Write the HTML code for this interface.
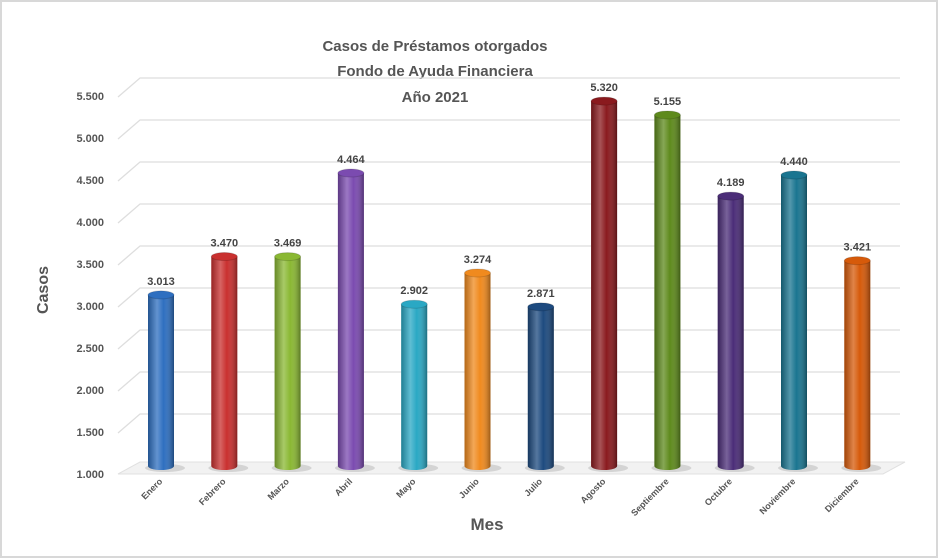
<!DOCTYPE html>
<html><head><meta charset="utf-8"><style>
body{margin:0;background:#fff;}
svg{display:block;font-family:"Liberation Sans",Arial,sans-serif;}
</style></head><body>
<svg width="940" height="560" viewBox="0 0 940 560">
<defs>
<linearGradient id="shade" x1="0" x2="1" y1="0" y2="0">
<stop offset="0" stop-color="#000" stop-opacity="0.25"/>
<stop offset="0.35" stop-color="#fff" stop-opacity="0.25"/>
<stop offset="0.6" stop-color="#fff" stop-opacity="0"/>
<stop offset="1" stop-color="#000" stop-opacity="0.35"/>
</linearGradient>
</defs>
<rect x="1" y="1" width="936" height="556" fill="#fff" stroke="#d8d8d8" stroke-width="2"/>
<g id="title" font-weight="bold" font-size="15" fill="#555" text-anchor="middle">
<text x="435" y="51">Casos de Préstamos otorgados</text>
<text x="435" y="76">Fondo de Ayuda Financiera</text>
<text x="435" y="102">Año 2021</text>
</g>
<text x="48" y="290" transform="rotate(-90 48 290)" font-size="16" font-weight="bold" fill="#555" text-anchor="middle">Casos</text>
<text x="487" y="530" font-size="17" font-weight="bold" fill="#555" text-anchor="middle">Mes</text>
<polygon points="118,474 140,462 905,462 883,474" fill="#f2f2f2" stroke="#e0e0e0"/>
<g id="grid"></g><g id="yt"></g><g id="bars"></g><g id="xt"></g>
</svg>
<script>
const months=["Enero","Febrero","Marzo","Abril","Mayo","Junio","Julio","Agosto","Septiembre","Octubre","Noviembre","Diciembre"];
const values=[3013,3470,3469,4464,2902,3274,2871,5320,5155,4189,4440,3421];
const valueLabels=["3.013","3.470","3.469","4.464","2.902","3.274","2.871","5.320","5.155","4.189","4.440","3.421"];
const ticks=[1000,1500,2000,2500,3000,3500,4000,4500,5000,5500];
const tickLabels=["1.000","1.500","2.000","2.500","3.000","3.500","4.000","4.500","5.000","5.500"];
const colors=["#2e6fc0","#c9302f","#8ab833","#7b4bb0","#2aa8c4","#f08a1e","#1d4a7f","#8a1a1e","#5e8a1c","#4b2d78","#1a7590","#d65a0a"];
const NS="http://www.w3.org/2000/svg";
function y(v){return 474-(v-1000)*0.084;}
function x(i){return 161+i*63.3;}
function mk(t,a,p){const e=document.createElementNS(NS,t);for(const k in a)e.setAttribute(k,a[k]);p.appendChild(e);return e;}
const g=document.getElementById('grid'),yt=document.getElementById('yt'),bars=document.getElementById('bars'),xt=document.getElementById('xt');
ticks.forEach((v,i)=>{
 const yy=y(v);
 if(i>0){const l=mk('polyline',{points:`118,${yy+1} 140,${yy-18} 900,${yy-18}`,fill:'none',stroke:'#dedede','stroke-width':1.3},g);
 }
 const t=mk('text',{x:104,y:yy+4,'font-size':11,'font-weight':'bold',fill:'#555','text-anchor':'end'},yt);
 t.textContent=tickLabels[i];
 
});
values.forEach((v,i)=>{
 const cx=x(i),top=y(v)-10,bot=466,w=13;
 const grp=mk('g',{},bars);
 
 
 mk('ellipse',{cx:cx+4,cy:bot+2,rx:20,ry:4,fill:'#000',opacity:0.12},grp);
 mk('path',{d:`M${cx-w},${top} L${cx-w},${bot} A${w},4 0 0 0 ${cx+w},${bot} L${cx+w},${top} Z`,fill:colors[i]},grp);
 mk('path',{d:`M${cx-w},${top} L${cx-w},${bot} A${w},4 0 0 0 ${cx+w},${bot} L${cx+w},${top} Z`,fill:'url(#shade)'},grp);
 mk('ellipse',{cx:cx,cy:top,rx:w,ry:4,fill:colors[i],stroke:'#000','stroke-opacity':0.15},grp);
 const t=mk('text',{x:cx,y:top-10,'font-size':11,'font-weight':'bold',fill:'#444','text-anchor':'middle'},bars);
 t.textContent=valueLabels[i];
 
 const xl=mk('text',{x:cx+2,y:482,'font-size':9,'font-weight':'bold',fill:'#555','text-anchor':'end',transform:`rotate(-45 ${cx+2} 482)`},xt);
 xl.textContent=months[i];
 
});
</script>
</body></html>
